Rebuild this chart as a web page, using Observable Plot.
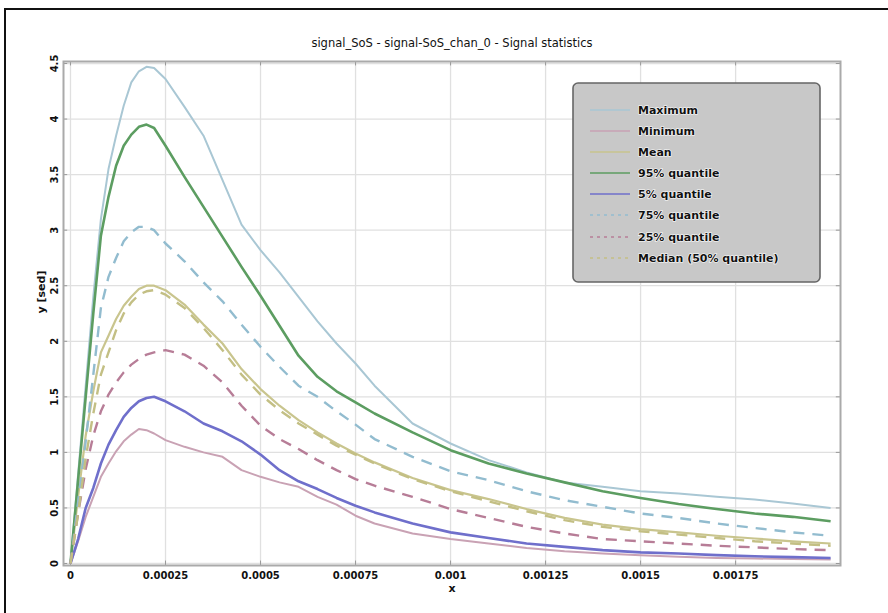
<!DOCTYPE html>
<html>
<head>
<meta charset="utf-8">
<script src="https://cdn.jsdelivr.net/npm/d3@7"></script>
<script src="https://cdn.jsdelivr.net/npm/@observablehq/plot@0.6"></script>
<style>
  html, body { margin: 0; padding: 0; background: white; }
  #wrap { position: relative; width: 888px; height: 613px; overflow: hidden; }
  #border { position: absolute; left: 4px; top: 8px; right: -10px; bottom: -10px;
            border-top: 2px solid #111; border-left: 2px solid #111; pointer-events: none; }
</style>
</head>
<body>
<div id="wrap"><div id="border"></div></div>
<script>
// ---- data ----
const xs = [0, 0.00002, 0.00004, 0.00006, 0.00008, 0.0001, 0.00012, 0.00014, 0.00016, 0.00018,
  0.0002, 0.00022, 0.00025, 0.0003, 0.00035, 0.0004, 0.00045, 0.0005, 0.00055, 0.0006,
  0.00065, 0.0007, 0.00075, 0.0008, 0.0009, 0.001, 0.0011, 0.0012, 0.0013, 0.0014,
  0.0015, 0.0016, 0.0017, 0.0018, 0.0019, 0.002];

const maximum = [0, 0.8, 1.6, 2.4, 3.1, 3.55, 3.85, 4.12, 4.33, 4.43,
  4.47, 4.46, 4.36, 4.11, 3.85, 3.45, 3.05, 2.82, 2.62, 2.4,
  2.18, 1.98, 1.8, 1.6, 1.26, 1.08, 0.93, 0.82, 0.73, 0.69,
  0.65, 0.63, 0.6, 0.575, 0.54, 0.5];

const minimum = [0, 0.2, 0.42, 0.6, 0.78, 0.9, 1.01, 1.1, 1.16, 1.21,
  1.2, 1.17, 1.11, 1.05, 1.0, 0.96, 0.84, 0.78, 0.73, 0.69,
  0.6, 0.53, 0.43, 0.36, 0.27, 0.22, 0.18, 0.14, 0.11, 0.09,
  0.075, 0.06, 0.05, 0.045, 0.04, 0.035];

const mean = [0, 0.6, 1.15, 1.55, 1.9, 2.05, 2.2, 2.32, 2.4, 2.47,
  2.5, 2.5, 2.46, 2.33, 2.15, 1.98, 1.75, 1.57, 1.42, 1.29,
  1.18, 1.08, 0.99, 0.91, 0.77, 0.66, 0.58, 0.49, 0.41, 0.35,
  0.31, 0.28, 0.25, 0.225, 0.2, 0.18];

const q95 = [0, 0.75, 1.5, 2.25, 2.95, 3.3, 3.58, 3.76, 3.86, 3.93,
  3.95, 3.92, 3.76, 3.48, 3.21, 2.94, 2.67, 2.41, 2.14, 1.87,
  1.68, 1.55, 1.45, 1.35, 1.18, 1.02, 0.9, 0.81, 0.73, 0.65,
  0.59, 0.535, 0.49, 0.45, 0.42, 0.38];

const q05 = [0, 0.22, 0.5, 0.68, 0.9, 1.07, 1.2, 1.32, 1.4, 1.46,
  1.49, 1.5, 1.46, 1.37, 1.26, 1.19, 1.1, 0.98, 0.84, 0.74,
  0.67, 0.59, 0.52, 0.46, 0.36, 0.28, 0.23, 0.18, 0.15, 0.12,
  0.1, 0.09, 0.075, 0.065, 0.057, 0.05];

const q75 = [0, 0.55, 1.1, 1.7, 2.3, 2.58, 2.75, 2.9, 2.98, 3.03,
  3.03, 3.0, 2.88, 2.72, 2.53, 2.36, 2.15, 1.95, 1.77, 1.6,
  1.5, 1.37, 1.25, 1.12, 0.96, 0.83, 0.75, 0.65, 0.57, 0.51,
  0.45, 0.41, 0.36, 0.32, 0.28, 0.25];

const q25 = [0, 0.45, 0.85, 1.15, 1.37, 1.52, 1.63, 1.72, 1.79, 1.84,
  1.88, 1.9, 1.92, 1.88, 1.78, 1.63, 1.42, 1.24, 1.12, 1.03,
  0.93, 0.84, 0.76, 0.7, 0.6, 0.49, 0.41, 0.33, 0.27, 0.22,
  0.2, 0.18, 0.16, 0.145, 0.13, 0.12];

const median = [0, 0.45, 0.95, 1.35, 1.7, 1.9, 2.1, 2.25, 2.35, 2.42,
  2.45, 2.46, 2.42, 2.3, 2.12, 1.92, 1.7, 1.52, 1.38, 1.26,
  1.16, 1.06, 0.98, 0.9, 0.76, 0.65, 0.56, 0.47, 0.39, 0.33,
  0.29, 0.26, 0.23, 0.2, 0.18, 0.16];

const seriesNames = ["Maximum", "Minimum", "Mean", "95% quantile", "5% quantile",
  "75% quantile", "25% quantile", "Median (50% quantile)"];
const seriesValues = [maximum, minimum, mean, q95, q05, q75, q25, median];

const xTicks = [0, 0.00025, 0.0005, 0.00075, 0.001, 0.00125, 0.0015, 0.00175];
const xTickLabels = ["0", "0.00025", "0.0005", "0.00075", "0.001", "0.00125", "0.0015", "0.00175"];
const yTicks = [0, 0.5, 1, 1.5, 2, 2.5, 3, 3.5, 4, 4.5];
const yTickLabels = ["0", "0.5", "1", "1.5", "2", "2.5", "3", "3.5", "4", "4.5"];

const titleText = "signal_SoS - signal-SoS_chan_0 - Signal statistics";
const xLabel = "x";
const yLabel = "y [sed]";

// ---- styles ----
const styles = {
  "Maximum":               {stroke: "#a9c7d4", width: 2,   dash: null},
  "Minimum":               {stroke: "#c9a2b4", width: 2,   dash: null},
  "Mean":                  {stroke: "#c9c58e", width: 2.2, dash: null},
  "95% quantile":          {stroke: "#5c9d61", width: 2.6, dash: null},
  "5% quantile":           {stroke: "#6f6fcb", width: 2.6, dash: null},
  "75% quantile":          {stroke: "#92bccf", width: 2.4, dash: "11,8"},
  "25% quantile":          {stroke: "#b77d97", width: 2.4, dash: "11,8"},
  "Median (50% quantile)": {stroke: "#c3bf84", width: 2.4, dash: "11,8"}
};

const data = [];
seriesNames.forEach((name, si) => {
  xs.forEach((x, i) => data.push({series: name, x, y: seriesValues[si][i]}));
});

const lineMarks = seriesNames.map(name => Plot.line(data.filter(d => d.series === name), {
  x: "x", y: "y", stroke: styles[name].stroke, strokeWidth: styles[name].width,
  strokeDasharray: styles[name].dash, strokeLinejoin: "round", strokeLinecap: "butt"
}));

const xMin = -0.0000184, xMax = 0.002026, yMin = -0.018, yMax = 4.518;

const chart = Plot.plot({
  width: 888,
  height: 613,
  marginLeft: 63, marginRight: 48, marginTop: 61, marginBottom: 48,
  style: {background: "white", fontFamily: "DejaVu Sans", fontSize: "10px", fontWeight: "bold", color: "#111"},
  x: {domain: [xMin, xMax], ticks: xTicks,
      tickFormat: d => xTickLabels[xTicks.indexOf(d)], tickSize: 0, tickPadding: 6, label: null},
  y: {domain: [yMin, yMax], ticks: yTicks,
      tickFormat: d => yTickLabels[yTicks.indexOf(d)], tickSize: 0, tickPadding: 6, tickRotate: -90, label: null},
  marks: [
    Plot.ruleX(xTicks, {stroke: "#e0e0e0", strokeWidth: 1.3}),
    Plot.ruleY(yTicks, {stroke: "#e0e0e0", strokeWidth: 1.3}),
    Plot.ruleX(xTicks, {y1: yMin, y2: yMin + 0.04, stroke: "#999"}),
    Plot.ruleX(xTicks, {y1: yMax, y2: yMax - 0.04, stroke: "#999"}),
    Plot.ruleY(yTicks, {x1: xMin, x2: xMin + 0.000011, stroke: "#999"}),
    Plot.ruleY(yTicks, {x1: xMax, x2: xMax - 0.000011, stroke: "#999"}),
    ...lineMarks,
    Plot.frame({stroke: "#aaaaaa", strokeWidth: 2}),
    Plot.text([titleText], {frameAnchor: "top", dy: -23, fontSize: 11.5, fontWeight: "normal", fill: "#111"}),
    Plot.text([xLabel], {frameAnchor: "bottom", dy: 26, fontSize: 11, fill: "#111"}),
    Plot.text([yLabel], {frameAnchor: "left", dx: -22, dy: 0, rotate: -90, fontSize: 11, fill: "#111"})
  ]
});

document.getElementById("wrap").prepend(chart);

// ---- legend ----
const svg = d3.select(chart);
const lg = svg.append("g").attr("class", "legend").attr("text-anchor", "start");
lg.append("rect").attr("x", 573).attr("y", 83).attr("width", 247).attr("height", 199)
  .attr("rx", 5).attr("fill", "#c8c8c8").attr("stroke", "#666").attr("stroke-width", 1.6);
const rowY = [110, 131, 152, 173, 194, 215, 237, 258];
seriesNames.forEach((name, i) => {
  const s = styles[name];
  lg.append("line").attr("x1", 590).attr("x2", 630).attr("y1", rowY[i]).attr("y2", rowY[i])
    .attr("stroke", s.stroke).attr("stroke-width", 1.6)
    .attr("stroke-dasharray", s.dash ? "3,4" : null);
  lg.append("text").attr("x", 638).attr("y", rowY[i]).attr("dy", "0.35em")
    .attr("text-anchor", "start")
    .attr("font-size", 11).attr("font-weight", "bold").attr("fill", "#111")
    .attr("stroke", "white").attr("stroke-width", 1.2).attr("paint-order", "stroke")
    .text(name);
});
</script>
</body>
</html>
